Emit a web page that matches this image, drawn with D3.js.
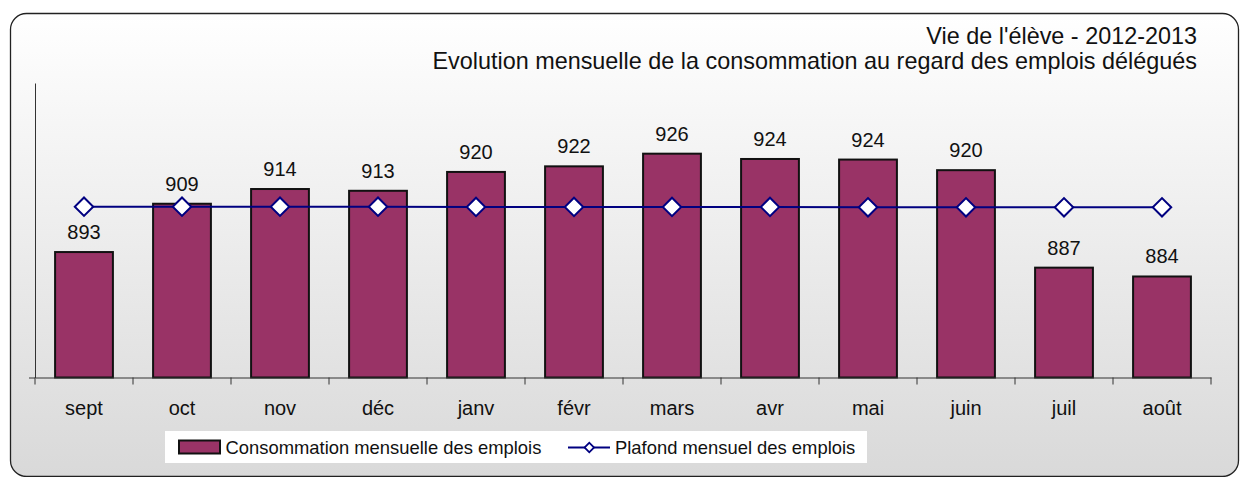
<!DOCTYPE html>
<html>
<head>
<meta charset="utf-8">
<script src="https://cdn.jsdelivr.net/npm/d3@7"></script>
<style>
  html, body { margin: 0; padding: 0; background: #ffffff; }
  svg { display: block; }
  text { font-family: "Liberation Sans", Arial, Helvetica, sans-serif; fill: #111; }
</style>
</head>
<body>
<svg id="chart" width="1240" height="477"></svg>
<script>
// ---- data ----
const months = ["sept", "oct", "nov", "déc", "janv", "févr", "mars", "avr", "mai", "juin", "juil", "août"];
const consommation = [892.6, 909.0, 914.0, 913.4, 919.8, 921.7, 926.0, 924.2, 924.0, 920.4, 887.3, 884.3];
const plafond = [908.0, 908.0, 908.0, 908.0, 907.9, 907.9, 907.9, 907.9, 907.8, 907.8, 907.8, 907.8];
const yDomain = [850, 950];
const titleLines = ["Vie de l'élève - 2012-2013", "Evolution mensuelle de la consommation au regard des emplois délégués"];
const seriesNames = ["Consommation mensuelle des emplois", "Plafond mensuel des emplois"];

const svg = d3.select("#chart");

// background box with gradient
const defs = svg.append("defs");
const grad = defs.append("linearGradient").attr("id", "bg").attr("x1", 0).attr("y1", 0).attr("x2", 0).attr("y2", 1);
grad.append("stop").attr("offset", "0%").attr("stop-color", "#ffffff");
grad.append("stop").attr("offset", "100%").attr("stop-color", "#d9d9d9");

svg.append("rect")
  .attr("x", 10.5).attr("y", 13.5).attr("width", 1228).attr("height", 463)
  .attr("rx", 16).attr("ry", 16)
  .attr("fill", "url(#bg)").attr("stroke", "#222").attr("stroke-width", 1.3);

// title
svg.selectAll("text.title").data(titleLines).join("text")
  .attr("class", "title")
  .attr("x", 1197).attr("y", (d, i) => 43.5 + i * 25)
  .attr("text-anchor", "end")
  .style("font-size", "23.4px")
  .text(d => d);

// scales
const x = d3.scaleBand().domain(months).range([35, 1211]).paddingInner(0.41).paddingOuter(0.205);
const y = d3.scaleLinear().domain(yDomain).range([377.5, 83]);

// y axis line (no labels)
const yAxis = svg.append("g").attr("transform", "translate(35,0)")
  .call(d3.axisLeft(y).tickValues([yDomain[0]]).tickSize(6).tickSizeOuter(0).tickFormat(""));
yAxis.select(".domain").attr("stroke", "#333").attr("stroke-width", 1);
yAxis.selectAll(".tick line").attr("stroke", "#333");

// bars
svg.append("g").selectAll("rect").data(consommation).join("rect")
  .attr("x", (d, i) => x(months[i]))
  .attr("y", d => y(d))
  .attr("width", x.bandwidth())
  .attr("height", d => y(yDomain[0]) - y(d))
  .attr("fill", "#993366")
  .attr("stroke", "#111")
  .attr("stroke-width", 2);

// x axis
const xAxis = svg.append("g").attr("transform", `translate(0,${y(yDomain[0])})`)
  .call(d3.axisBottom(x).tickSize(0).tickPadding(23).tickSizeOuter(0));
xAxis.select(".domain").attr("stroke", "#333").attr("stroke-width", 1);
xAxis.selectAll(".tick text").style("font-size", "20px").attr("fill", "#111")
  .style("font-family", "'Liberation Sans', Arial, sans-serif");
// category boundary ticks
const boundaries = months.map(m => x(m) - x.step() * x.paddingInner() / 2).concat([x.range()[1]]);
xAxis.selectAll("line.bt").data(boundaries).join("line")
  .attr("class", "bt")
  .attr("x1", d => d).attr("x2", d => d)
  .attr("y1", 0).attr("y2", 7)
  .attr("stroke", "#333").attr("stroke-width", 1);

// value labels
svg.append("g").selectAll("text").data(consommation).join("text")
  .attr("x", (d, i) => x(months[i]) + x.bandwidth() / 2)
  .attr("y", d => y(d) - 13)
  .attr("text-anchor", "middle")
  .style("font-size", "20px")
  .text(d => d3.format(".0f")(d));

// plafond line
const cx = (i) => x(months[i]) + x.bandwidth() / 2;
const line = d3.line().x((d, i) => cx(i)).y(d => y(d));
svg.append("path").datum(plafond)
  .attr("d", line)
  .attr("fill", "none")
  .attr("stroke", "#000080")
  .attr("stroke-width", 2);

const diamond = d3.symbol().type(d3.symbolSquare).size(170);
svg.append("g").selectAll("path").data(plafond).join("path")
  .attr("d", diamond)
  .attr("transform", (d, i) => `translate(${cx(i)},${y(d)}) rotate(45)`)
  .attr("fill", "#ffffff")
  .attr("stroke", "#000080")
  .attr("stroke-width", 2);

// legend
const lg = svg.append("g");
lg.append("rect").attr("x", 165).attr("y", 431).attr("width", 702).attr("height", 32).attr("fill", "#ffffff");
lg.append("rect").attr("x", 179).attr("y", 440.5).attr("width", 41).attr("height", 13)
  .attr("fill", "#993366").attr("stroke", "#111").attr("stroke-width", 2);
lg.append("text").attr("x", 225.5).attr("y", 453.5).style("font-size", "18.4px").text(seriesNames[0]);
lg.append("line").attr("x1", 568).attr("x2", 610).attr("y1", 447.5).attr("y2", 447.5)
  .attr("stroke", "#000080").attr("stroke-width", 2);
lg.append("path").attr("d", d3.symbol().type(d3.symbolSquare).size(45))
  .attr("transform", "translate(589.3,447.5) rotate(45)")
  .attr("fill", "#ffffff").attr("stroke", "#000080").attr("stroke-width", 1.8);
lg.append("text").attr("x", 615).attr("y", 453.5).style("font-size", "18.4px").text(seriesNames[1]);
</script>
</body>
</html>
